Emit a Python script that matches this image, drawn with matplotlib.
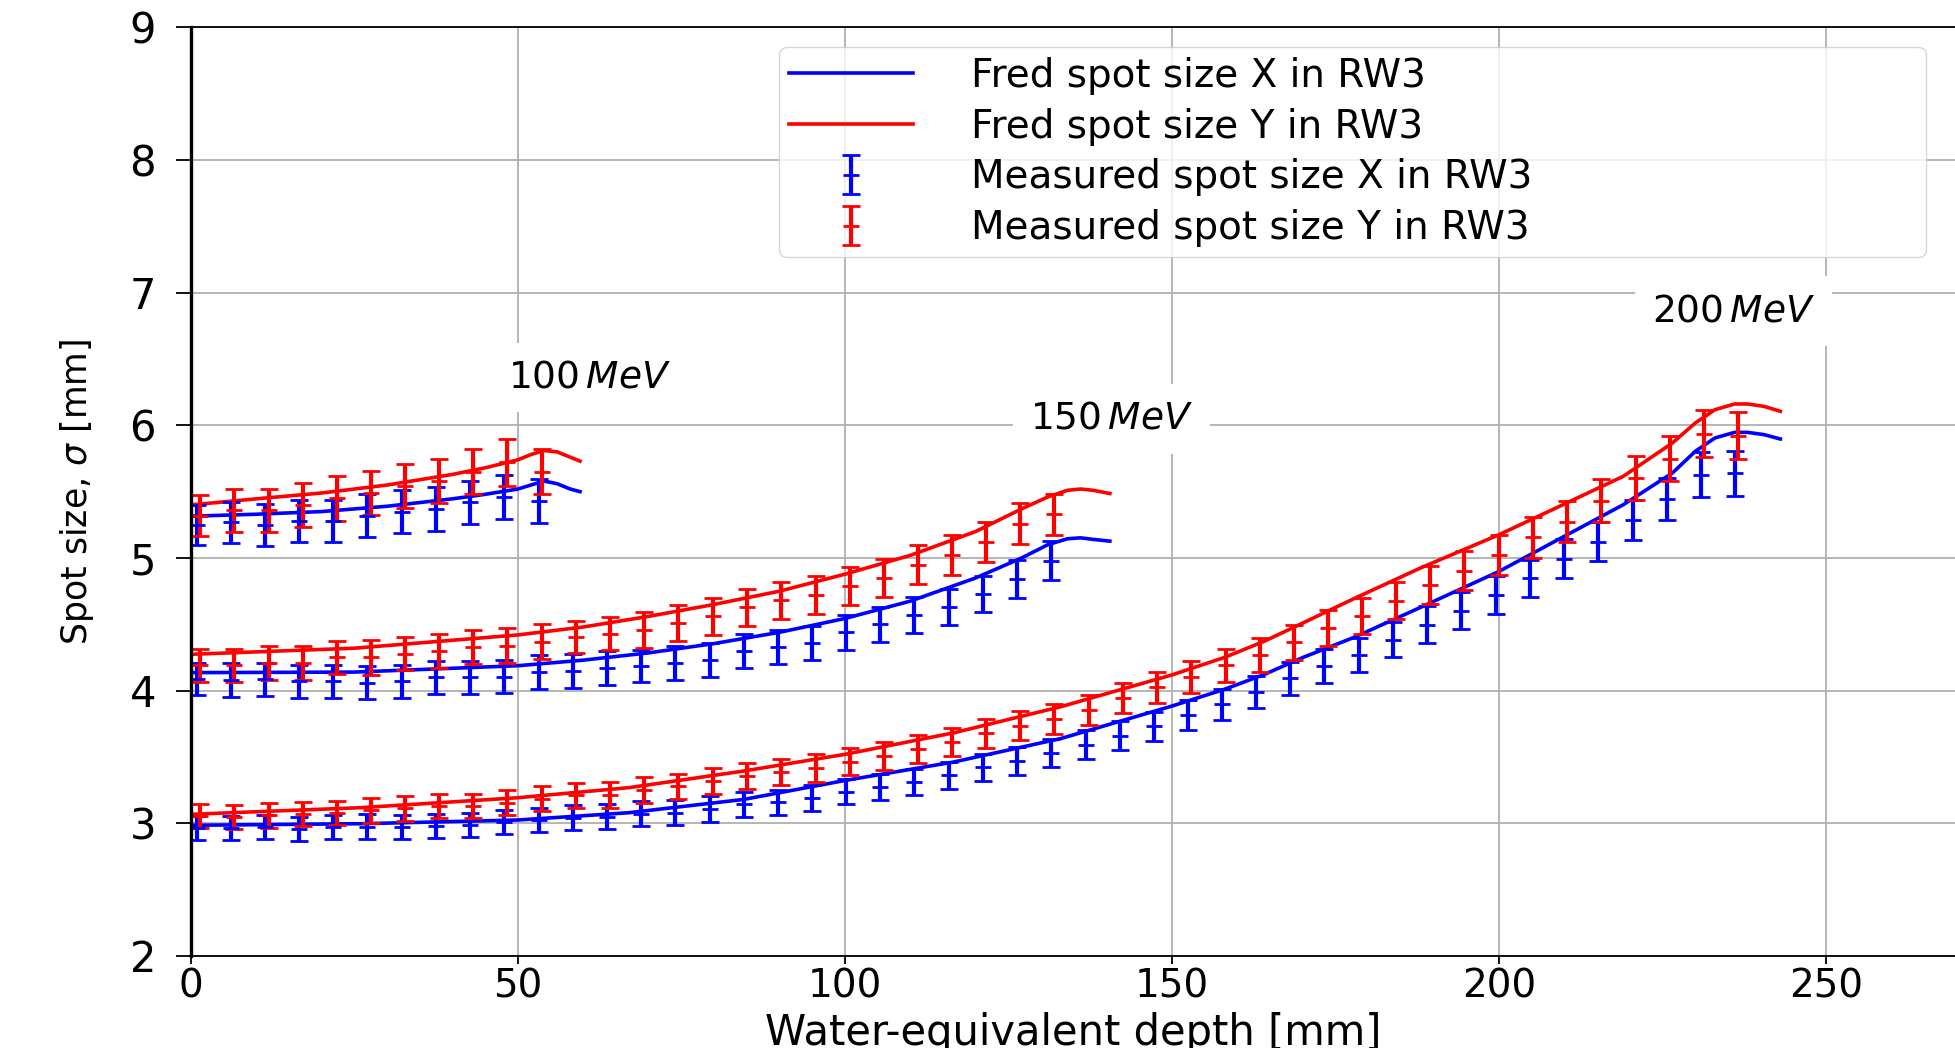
import matplotlib
matplotlib.use("Agg")
import matplotlib.pyplot as plt

plt.rcParams.update({
    "font.family": "DejaVu Sans",
    "mathtext.fontset": "dejavusans",
})

X_COLOR = "#0000ff"
Y_COLOR = "#ff0000"

# measured depths (water equivalent, mm); 100 MeV uses the first 11, 150 MeV the first 26
depth = [0.9, 6.1, 11.4, 16.6, 21.8, 27.0, 32.3, 37.5, 42.7, 47.9, 53.2,
         58.4, 63.6, 68.8, 74.0, 79.3, 84.5, 89.7, 95.0, 100.2, 105.4,
         110.6, 115.9, 121.1, 126.3, 131.5, 136.8, 142.0, 147.2, 152.4, 157.7,
         162.9, 168.1, 173.3, 178.6, 183.8, 189.0, 194.2, 199.5, 204.7, 209.9,
         215.1, 220.4, 225.6, 230.8, 236.0]

# --- 100 MeV ---
meas100_x = [5.25, 5.27, 5.25, 5.28, 5.28, 5.32, 5.35, 5.37, 5.42, 5.46, 5.43]
err100_x = [0.15, 0.155, 0.157, 0.157, 0.16, 0.161, 0.161, 0.164, 0.164, 0.164, 0.164]
meas100_y = [5.32, 5.36, 5.36, 5.40, 5.45, 5.49, 5.54, 5.58, 5.65, 5.72, 5.65]
err100_y = [0.157, 0.161, 0.161, 0.164, 0.168, 0.164, 0.166, 0.169, 0.17, 0.174, 0.17]
fred100_depth = [0, 10, 20, 30, 40, 45, 50, 52, 54, 56, 58, 59.5]
fred100_x = [5.315, 5.33, 5.35, 5.39, 5.446, 5.48, 5.52, 5.55, 5.58, 5.56, 5.52, 5.50]
fred100_y = [5.40, 5.446, 5.49, 5.55, 5.63, 5.68, 5.74, 5.78, 5.81, 5.80, 5.76, 5.73]

# --- 150 MeV ---
meas150_x = [4.09, 4.08, 4.085, 4.07, 4.07, 4.06, 4.07, 4.10, 4.10, 4.105, 4.14, 4.15, 4.17,
             4.185, 4.21, 4.23, 4.30, 4.33, 4.36, 4.44, 4.50, 4.57, 4.63, 4.73, 4.84, 4.98]
err150_x = [0.12, 0.126, 0.126, 0.126, 0.123, 0.123, 0.126, 0.123, 0.122, 0.126, 0.126, 0.128, 0.126,
            0.119, 0.126, 0.128, 0.128, 0.128, 0.129, 0.132, 0.134, 0.134, 0.138, 0.138, 0.142, 0.147]
meas150_y = [4.19, 4.19, 4.21, 4.21, 4.25, 4.25, 4.28, 4.30, 4.33, 4.34, 4.37, 4.405, 4.43,
             4.46, 4.51, 4.56, 4.63, 4.68, 4.72, 4.79, 4.85, 4.95, 5.02, 5.12, 5.26, 5.33]
err150_y = [0.126, 0.126, 0.128, 0.128, 0.126, 0.13, 0.126, 0.128, 0.128, 0.13, 0.13, 0.123, 0.123,
            0.136, 0.138, 0.138, 0.139, 0.138, 0.141, 0.144, 0.143, 0.147, 0.151, 0.151, 0.153, 0.155]
fred150_depth = [0, 25, 50, 60, 70, 80, 90, 100, 110, 120, 127, 131, 134, 136, 138, 140.5]
fred150_x = [4.136, 4.14, 4.188, 4.23, 4.285, 4.355, 4.44, 4.544, 4.675, 4.85, 5.0, 5.1,
             5.145, 5.152, 5.14, 5.127]
fred150_y = [4.274, 4.32, 4.42, 4.48, 4.56, 4.65, 4.75, 4.878, 5.02, 5.20, 5.37, 5.46,
             5.51, 5.52, 5.51, 5.486]

# --- 200 MeV ---
meas200_x = [2.967, 2.965, 2.974, 2.957, 2.971, 2.976, 2.971, 2.982, 2.989, 3.008, 3.028, 3.043,
             3.049, 3.074, 3.080, 3.109, 3.142, 3.159, 3.191, 3.239, 3.275, 3.311, 3.361, 3.422,
             3.471, 3.528, 3.592, 3.662, 3.73, 3.816, 3.896, 3.992, 4.092, 4.186, 4.268, 4.383,
             4.497, 4.604, 4.721, 4.847, 4.996, 5.122, 5.284, 5.443, 5.628, 5.637]
err200_x = [0.09, 0.09, 0.09, 0.09, 0.09, 0.092, 0.092, 0.092, 0.092, 0.09, 0.09, 0.093,
            0.094, 0.094, 0.094, 0.097, 0.092, 0.093, 0.095, 0.097, 0.098, 0.101, 0.101, 0.104,
            0.105, 0.104, 0.11, 0.111, 0.111, 0.114, 0.114, 0.119, 0.126, 0.128, 0.129, 0.132,
            0.138, 0.137, 0.141, 0.141, 0.147, 0.147, 0.151, 0.16, 0.168, 0.167]
meas200_y = [3.055, 3.046, 3.059, 3.072, 3.078, 3.097, 3.112, 3.131, 3.131, 3.156, 3.187, 3.21,
             3.216, 3.253, 3.278, 3.317, 3.358, 3.384, 3.415, 3.466, 3.509, 3.562, 3.612, 3.678,
             3.736, 3.788, 3.854, 3.942, 4.027, 4.10, 4.19, 4.27, 4.366, 4.475, 4.564, 4.678,
             4.796, 4.903, 5.025, 5.155, 5.275, 5.432, 5.60, 5.747, 5.937, 5.923]
err200_y = [0.093, 0.092, 0.092, 0.092, 0.09, 0.092, 0.094, 0.093, 0.093, 0.093, 0.094, 0.097,
            0.098, 0.097, 0.097, 0.098, 0.1, 0.098, 0.105, 0.105, 0.105, 0.107, 0.107, 0.107,
            0.11, 0.111, 0.114, 0.114, 0.117, 0.12, 0.122, 0.126, 0.132, 0.136, 0.134, 0.138,
            0.141, 0.147, 0.151, 0.155, 0.157, 0.163, 0.166, 0.17, 0.176, 0.177]
fred200_depth = [0, 26, 50, 67, 84.5, 100, 116.6, 133, 150, 158, 164, 170, 178, 188, 200, 209,
                 219, 226.5, 230, 233, 236, 238, 240.5, 243]
fred200_x = [2.985, 2.997, 3.025, 3.08, 3.18, 3.323, 3.462, 3.639, 3.884, 4.01, 4.12, 4.25,
             4.405, 4.628, 4.899, 5.138, 5.402, 5.641, 5.804, 5.905, 5.947, 5.947, 5.93, 5.897]
fred200_y = [3.068, 3.118, 3.193, 3.269, 3.394, 3.52, 3.682, 3.879, 4.119, 4.25, 4.37, 4.51,
             4.698, 4.925, 5.176, 5.384, 5.616, 5.867, 6.018, 6.118, 6.161, 6.161, 6.143, 6.106]

energy_labels = [r"$100\,MeV$", r"$150\,MeV$", r"$200\,MeV$"]
label_pos = [(61.0, 6.36), (140.8, 6.05), (235.8, 6.86)]

groups = [
    (fred100_depth, fred100_x, fred100_y, 11, meas100_x, err100_x, meas100_y, err100_y),
    (fred150_depth, fred150_x, fred150_y, 26, meas150_x, err150_x, meas150_y, err150_y),
    (fred200_depth, fred200_x, fred200_y, 46, meas200_x, err200_x, meas200_y, err200_y),
]

fig = plt.figure(figsize=(19.55, 10.48), dpi=100)
ax = fig.add_axes([0.0976, 0.0878, 0.9024, 0.8861])

err_kw = dict(fmt="_", markersize=11, markeredgewidth=2.0, elinewidth=3.0,
              capsize=6.5, capthick=2.0, linestyle="none")

for i, (fd, fx, fy, n, mx, ex, my, ey) in enumerate(groups):
    first = i == 0
    ax.plot(fd, fx, color=X_COLOR, lw=2.6,
            label="Fred spot size X in RW3" if first else None)
    ax.plot(fd, fy, color=Y_COLOR, lw=2.6,
            label="Fred spot size Y in RW3" if first else None)
    d = depth[:n]
    ax.errorbar(d, mx, yerr=ex, color=X_COLOR, **err_kw,
                label="Measured spot size X in RW3" if first else None)
    ax.errorbar([v + 0.5 for v in d], my, yerr=ey, color=Y_COLOR, **err_kw,
                label="Measured spot size Y in RW3" if first else None)

for txt, (xp, yp) in zip(energy_labels, label_pos):
    ax.text(xp, yp, txt, fontsize=27, ha="center", va="center",
            bbox=dict(boxstyle="square,pad=0.45", facecolor="white", edgecolor="none"))

ax.set_xlim(0, 269.7)
ax.set_ylim(2, 9)
ax.set_xticks([0, 50, 100, 150, 200, 250])
ax.set_yticks([2, 3, 4, 5, 6, 7, 8, 9])
ax.grid(True, color="#b0b0b0", linewidth=1.3)
ax.set_axisbelow(True)

ax.spines["right"].set_visible(False)
ax.spines["left"].set_linewidth(2.4)
ax.spines["top"].set_linewidth(1.3)
ax.spines["bottom"].set_linewidth(1.3)
ax.tick_params(axis="y", length=11, width=1.3, pad=14, labelsize=30)
ax.tick_params(axis="x", length=6, width=1.3, pad=2, labelsize=28)

ax.set_xlabel("Water-equivalent depth [mm]", fontsize=30)
ax.xaxis.set_label_coords(0.5, -0.0605)
ax.set_ylabel(r"Spot size, $\sigma$ [mm]", fontsize=25)
ax.yaxis.set_label_coords(-0.054, 0.5)

ax.legend(loc="upper left", bbox_to_anchor=(0.3334, 0.9789, 0.6502, 0.0),
          mode="expand", borderaxespad=0, fontsize=28, labelspacing=0.33,
          handlelength=3.2, handletextpad=1.5, borderpad=0.25)

fig.savefig("out.png", dpi=100)
